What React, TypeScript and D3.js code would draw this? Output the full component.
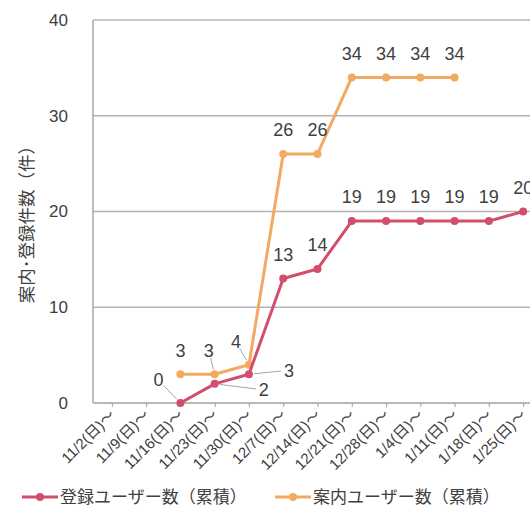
import React, { useRef, useEffect } from 'react';
import { select, scaleLinear, scalePoint, line, axisBottom } from 'd3';

// week start labels (x axis)
const categories = [
  '11/2(日)～', '11/9(日)～', '11/16(日)～', '11/23(日)～', '11/30(日)～',
  '12/7(日)～', '12/14(日)～', '12/21(日)～', '12/28(日)～', '1/4(日)～',
  '1/11(日)～', '1/18(日)～', '1/25(日)～'
];
const registered = [null, null, 0, 2, 3, 13, 14, 19, 19, 19, 19, 19, 20];
const guided = [null, null, 3, 3, 4, 26, 26, 34, 34, 34, 34, null, null];
const yTicks = [0, 10, 20, 30, 40];
const seriesNames = ['登録ユーザー数（累積）', '案内ユーザー数（累積）'];
const yTitle = '案内･登録件数（件）';

const RED = '#d14e6c';
const ORANGE = '#f2aa62';
const TEXT = '#404040';

// labels that Excel moved away from their point (with a leader line)
const moved: Record<string, [number, number]> = {
  'r2': [-22, -23],
  'r3': [49, 6],
  'r4': [40, -4],
  'g3': [-6, -24],
  'g4': [-13, -23]
};

const App = () => {
  const ref = useRef<SVGSVGElement>(null);

  useEffect(() => {
    const svg = select(ref.current);
    svg.selectAll('*').remove();

    const left = 93, top = 20, bottom = 403, right = 530;
    const x = scalePoint<string>().domain(categories).range([93, 542]).padding(0.55);
    const y = scaleLinear().domain([0, 40]).range([bottom, top]);

    // grid
    svg.append('g').selectAll('line').data(yTicks.filter(d => d > 0)).enter().append('line')
      .attr('x1', left).attr('x2', right)
      .attr('y1', d => y(d)).attr('y2', d => y(d))
      .style('stroke', '#b4b4b4').style('stroke-width', 1.5);

    svg.append('line').attr('x1', left).attr('x2', left).attr('y1', top).attr('y2', bottom)
      .style('stroke', '#a8a8a8').style('stroke-width', 1.5);

    // y tick labels
    svg.append('g').selectAll('text').data(yTicks).enter().append('text')
      .attr('x', 68).attr('y', d => y(d)).attr('dy', '0.35em')
      .attr('text-anchor', 'end')
      .style('font-family', 'Liberation Sans, Arial, sans-serif')
      .style('font-size', '17px').style('fill', TEXT)
      .text(d => d);

    svg.append('text')
      .attr('transform', 'translate(33,220) rotate(-90)')
      .attr('text-anchor', 'middle')
      .style('font-family', 'Noto Sans CJK JP, sans-serif')
      .style('font-size', '17.5px').style('fill', TEXT)
      .text(yTitle);

    // x axis
    const xg = svg.append('g').attr('transform', 'translate(0,' + bottom + ')')
      .call(axisBottom(x).tickSizeOuter(0).tickSize(4).tickFormat(() => ''));
    xg.select('.domain').attr('d', 'M' + left + ',0H' + right).style('stroke', '#a0a0a0').style('stroke-width', 1.5);
    xg.selectAll('.tick line').style('stroke', '#a0a0a0');

    svg.append('g').selectAll('text').data(categories).enter().append('text')
      .attr('transform', d => 'translate(' + ((x(d) as number) + 4) + ',' + (bottom + 13) + ') rotate(-45)')
      .attr('text-anchor', 'end')
      .style('font-family', 'Liberation Sans, Noto Sans CJK JP, sans-serif')
      .style('font-size', '15px').style('fill', TEXT)
      .text(d => d);

    const series = [
      { key: 'g', values: guided, color: ORANGE },
      { key: 'r', values: registered, color: RED }
    ];

    series.forEach(s => {
      const pts = categories.map((c, i) => ({ c, i, v: s.values[i] }));
      const gen = line<any>().defined(d => d.v !== null)
        .x(d => x(d.c) as number).y(d => y(d.v));
      svg.append('path').datum(pts).attr('d', gen)
        .style('fill', 'none').style('stroke', s.color).style('stroke-width', 3)
        .style('stroke-linejoin', 'round');
      const valid = pts.filter(d => d.v !== null);
      svg.append('g').selectAll('circle').data(valid).enter().append('circle')
        .attr('cx', d => x(d.c) as number).attr('cy', d => y(d.v))
        .attr('r', 4).style('fill', s.color);
    });

    // data labels
    series.forEach(s => {
      categories.forEach((c, i) => {
        const v = s.values[i];
        if (v === null) return;
        const px = x(c) as number, py = y(v);
        const off = moved[s.key + i];
        const lx = px + (off ? off[0] : 0);
        const ly = py + (off ? off[1] : -24);
        if (off) {
          const dx = px - lx, dy = py - ly;
          const len = Math.sqrt(dx * dx + dy * dy);
          svg.append('line')
            .attr('x1', lx + dx / len * 8).attr('y1', ly + dy / len * 8)
            .attr('x2', px - dx / len * 5).attr('y2', py - dy / len * 5)
            .style('stroke', '#9aa8b0').style('stroke-width', 1);
        }
        svg.append('text').attr('x', lx).attr('y', ly).attr('dy', '0.35em')
          .attr('text-anchor', 'middle')
          .style('font-family', 'Liberation Sans, Arial, sans-serif')
          .style('font-size', '18px').style('fill', TEXT)
          .text(v);
      });
    });

    // legend
    const legend = [
      { name: seriesNames[0], color: RED, x0: 22 },
      { name: seriesNames[1], color: ORANGE, x0: 275 }
    ];
    legend.forEach(l => {
      svg.append('line').attr('x1', l.x0).attr('x2', l.x0 + 36).attr('y1', 497).attr('y2', 497)
        .style('stroke', l.color).style('stroke-width', 3);
      svg.append('circle').attr('cx', l.x0 + 18).attr('cy', 497).attr('r', 4).style('fill', l.color);
      svg.append('text').attr('x', l.x0 + 38).attr('y', 497).attr('dy', '0.35em')
        .style('font-family', 'Noto Sans CJK JP, sans-serif')
        .style('font-size', '17px').style('fill', TEXT)
        .text(l.name);
    });
  }, []);

  return (
    <svg ref={ref} width={530} height={522}
      style={{ position: 'absolute', left: 0, top: 0, background: '#fff' }} />
  );
};

export default App;
